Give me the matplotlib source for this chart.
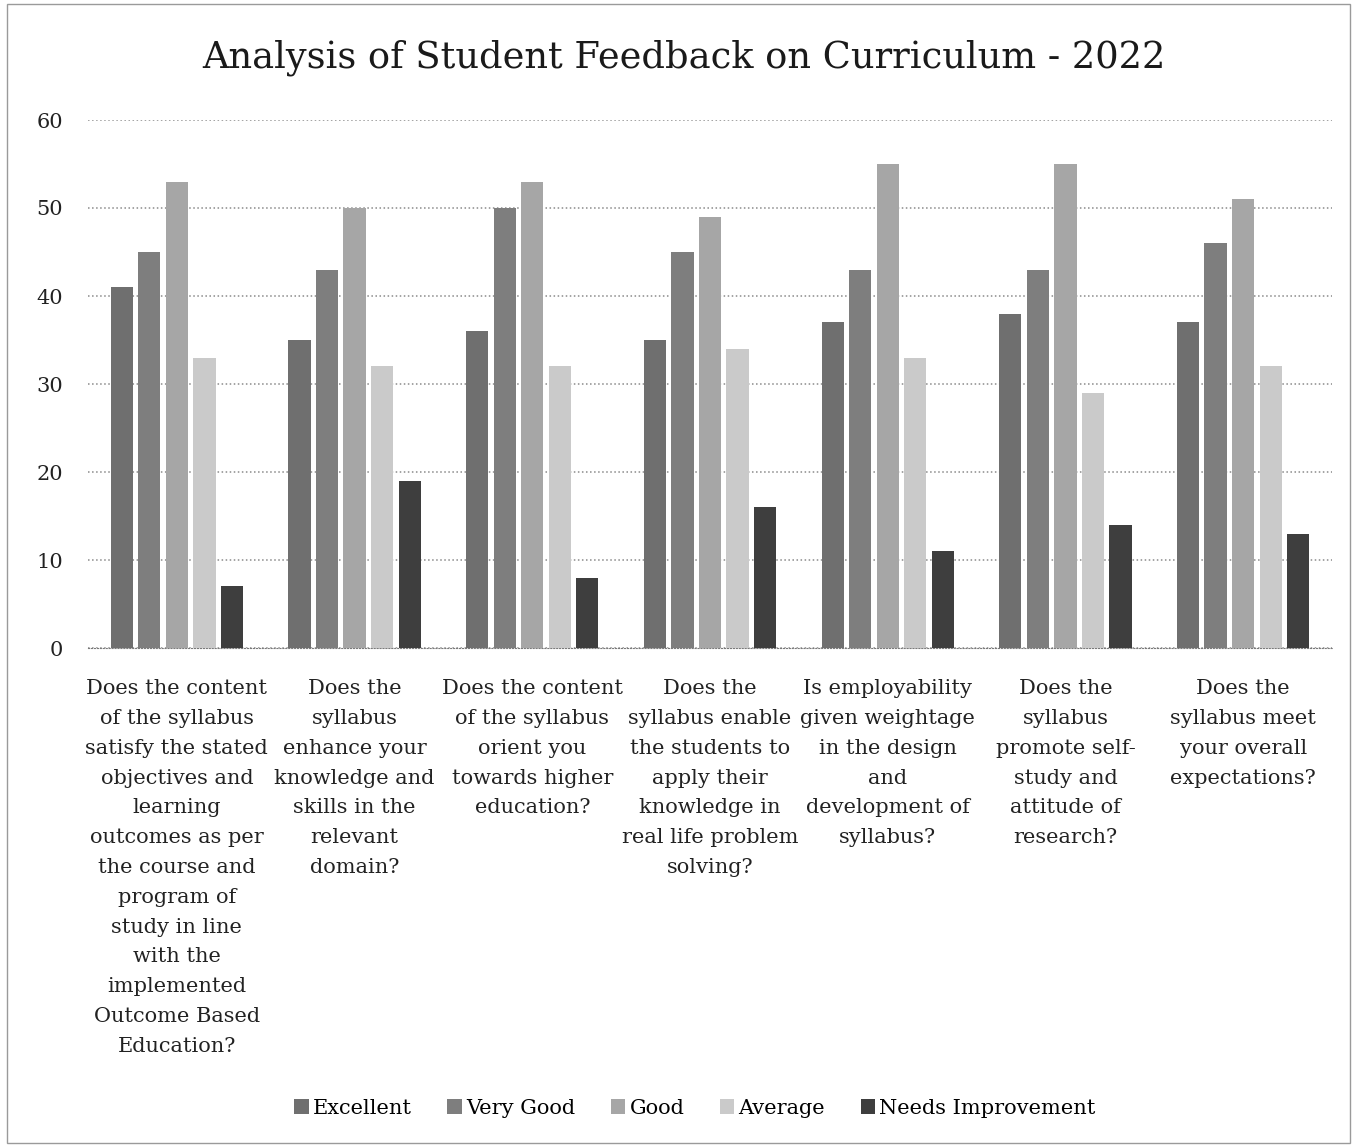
import matplotlib.pyplot as plt
import numpy as np
from matplotlib.patches import Rectangle

plt.rcParams['font.family'] = ['DejaVu Serif']

questions = [
    "Does the content\nof the syllabus\nsatisfy the stated\nobjectives and\nlearning\noutcomes as per\nthe course and\nprogram of\nstudy in line\nwith the\nimplemented\nOutcome Based\nEducation?",
    "Does the\nsyllabus\nenhance your\nknowledge and\nskills in the\nrelevant\ndomain?",
    "Does the content\nof the syllabus\norient you\ntowards higher\neducation?",
    "Does the\nsyllabus enable\nthe students to\napply their\nknowledge in\nreal life problem\nsolving?",
    "Is employability\ngiven weightage\nin the design\nand\ndevelopment of\nsyllabus?",
    "Does the\nsyllabus\npromote self-\nstudy and\nattitude of\nresearch?",
    "Does the\nsyllabus meet\nyour overall\nexpectations?",
]
series_names = ["Excellent", "Very Good", "Good", "Average", "Needs Improvement"]
excellent = [41, 35, 36, 35, 37, 38, 37]
very_good = [45, 43, 50, 45, 43, 43, 46]
good = [53, 50, 53, 49, 55, 55, 51]
average = [33, 32, 32, 34, 33, 29, 32]
needs_improvement = [7, 19, 8, 16, 11, 14, 13]

colors = ['#6f6f6f', '#7e7e7e', '#a6a6a6', '#cacaca', '#3e3e3e']

W, H = 1355, 1147
fig = plt.figure(figsize=(W / 100, H / 100), dpi=100)
ax = fig.add_axes([88 / W, 1 - 648 / H, 1244 / W, 528 / H])

x = np.arange(len(questions))
bw = 0.125
step = 0.155
all_vals = [excellent, very_good, good, average, needs_improvement]
for i, (name, vals) in enumerate(zip(series_names, all_vals)):
    ax.bar(x + (i - 2) * step, vals, width=bw, color=colors[i], label=name, zorder=3)

ax.set_xlim(-0.5, len(questions) - 0.5)
ax.set_ylim(0, 60)
ax.set_yticks(range(0, 61, 10))
ax.yaxis.grid(True, linestyle=':', color='#8a8a8a', linewidth=1.1)
ax.set_axisbelow(True)
for s in ['top', 'right', 'left']:
    ax.spines[s].set_visible(False)
ax.spines['bottom'].set_linestyle(':')
ax.spines['bottom'].set_color('#7a7a7a')
ax.tick_params(axis='both', length=0, labelsize=15, colors='#222222')
ax.tick_params(axis='y', pad=18)
ax.set_xticks(x)
ax.set_xticklabels([])

# category labels as text so the line spacing sticks
for xi, q in zip(x, questions):
    ax.annotate(q, xy=(xi, 0), xycoords=('data', 'axes fraction'),
                xytext=(0, -22.5), textcoords='offset points',
                ha='center', va='top', fontsize=15, linespacing=1.72,
                color='#222222')

fig.text(0.505, 1 - 58 / H, "Analysis of Student Feedback on Curriculum - 2022",
         ha='center', va='center', fontsize=26.5, color='#1a1a1a')

fig.legend(loc='center', bbox_to_anchor=(695 / W, 1 - 1108 / H), ncol=5, frameon=False,
           fontsize=15, handlelength=0.7, handleheight=0.7, handletextpad=0.2,
           columnspacing=1.7)

fig.patches.append(Rectangle((7 / W, 4 / H), (W - 12) / W, (H - 8) / H,
                             transform=fig.transFigure, fill=False,
                             edgecolor='#9a9a9a', linewidth=1))

fig.savefig('out.png', dpi=100, facecolor='white')
